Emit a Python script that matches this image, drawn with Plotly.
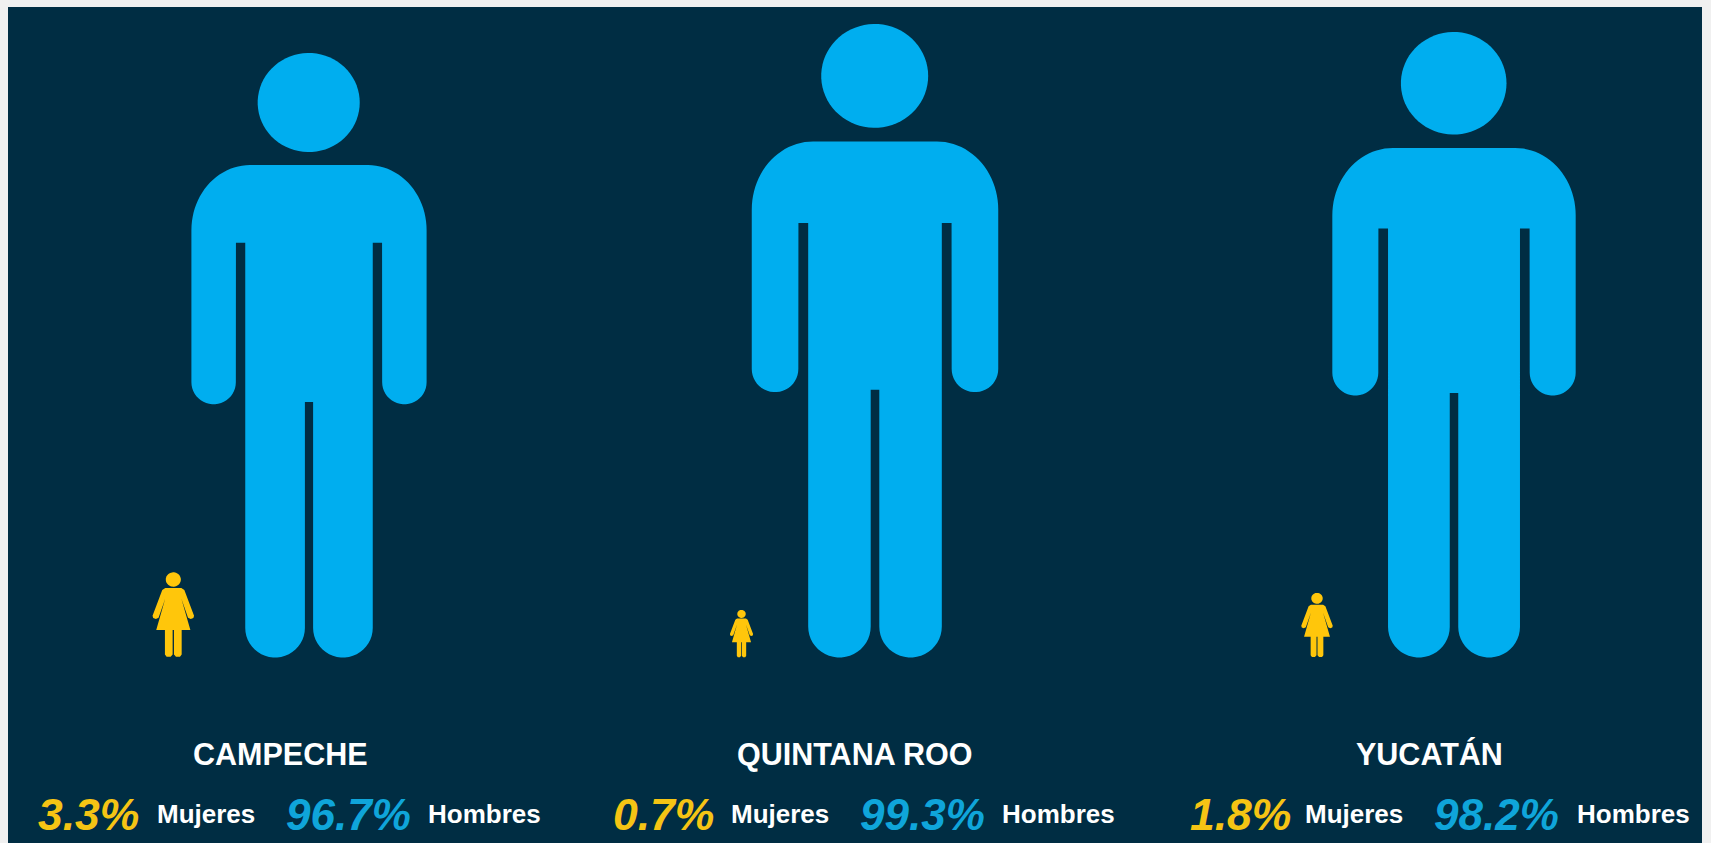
import numpy as np
import plotly.graph_objects as go

# ---- data ----
estados = ["CAMPECHE", "QUINTANA ROO", "YUCATÁN"]
mujeres = [3.3, 0.7, 1.8]
hombres = [96.7, 99.3, 98.2]

# ---- layout constants (pixels of the 1711x843 page) ----
W, H = 1711, 843
PANEL = (8, 1702, 7, 843)
BG, PAGE = "#002d43", "#f0f0f0"
BLUE, YELLOW = "#00aeef", "#ffc60b"
PCT_YELLOW, PCT_BLUE = "#f5c414", "#0fa5da"
BASE_Y = 657.5
man_cx = [309, 875, 1454]
man_h = [604.5, 633.5, 625.5]
woman_cx = [173.3, 741.5, 1317]
woman_h = [85, 47.5, 64.5]
title_cx = [280.5, 854.5, 1429.5]
pctw_x = [36, 611, 1188]
labw_x = [155, 729, 1303]
pctm_x = [284, 858, 1432]
labm_x = [426, 1000, 1575]
TITLE_Y, ROW_Y = 754, 814
FONT = "Liberation Sans"


def arc(cx, cy, rx, ry, a0, a1, n=24):
    t = np.radians(np.linspace(a0, a1, n))
    return cx + rx * np.cos(t), cy + ry * np.sin(t)


def man_template():
    """Icon outline in units of its height, x from centre, y measured up from the baseline."""
    xs, ys = [], []

    def add(p):
        xs.extend(p[0])
        ys.extend(p[1])

    add(([-59, 59], [165, 165]))
    add(arc(59, 230, 58.5, 65, -90, 0))
    add(arc(95.3, 382, 22.2, 22, 0, 180))
    add(([73, 63.7], [242.7, 242.7]))
    add(arc(33.9, 627.5, 29.8, 29.5, 0, 180))
    add(([4.1, -4.1], [401.7, 401.7]))
    add(arc(-33.9, 627.5, 29.8, 29.5, 0, 180))
    add(([-63.7, -73], [242.7, 242.7]))
    add(arc(-95.3, 382, 22.2, 22, 0, 180))
    add(arc(-59, 230, 58.5, 65, 180, 270))
    body = ((np.array(xs)) / 604, (np.array(ys) - 657) / 604)
    hx, hy = arc(-0.3, 102.5, 51, 49.5, 0, 360, 72)
    head = (hx / 604, (hy - 657) / 604)
    return body, head


def woman_template():
    right = [(24, 114), (33, 120), (62, 197), (60, 204), (52, 207), (44, 203), (24, 146),
             (51, 240), (25, 240), (25, 313), (20, 320), (8, 320), (2, 313), (2, 240)]
    pts = [(0, 114)] + right + [(-x, y) for x, y in reversed(right)]
    pts.append(pts[0])
    bx = np.array([p[0] for p in pts]) / 254
    by = (np.array([p[1] for p in pts]) - 322) / 254
    hx, hy = arc(0, 89, 22.5, 21.5, 0, 360, 48)
    return (bx, by), (hx / 254, (hy - 322) / 254)


fig = go.Figure()


def icon(parts, cx, h, color, name):
    for px, py in parts:
        fig.add_trace(go.Scatter(
            x=cx + px * h, y=BASE_Y + py * h, mode="lines", fill="toself",
            fillcolor=color, line=dict(width=0, color=color, simplify=False),
            name=name, hoverinfo="name", showlegend=False))


def label(x, y, text, size, color, anchor="left", italic=False):
    fig.add_annotation(x=x, y=y, text=text, showarrow=False, xanchor=anchor, yanchor="middle",
                       xref="x", yref="y",
                       font=dict(family=FONT, size=size, color=color, weight="bold",
                                 style="italic" if italic else "normal"))


man = man_template()
woman = woman_template()
for i, est in enumerate(estados):
    icon(man, man_cx[i], man_h[i], BLUE, f"{est} Hombres {hombres[i]}%")
    icon(woman, woman_cx[i], woman_h[i], YELLOW, f"{est} Mujeres {mujeres[i]}%")
    label(title_cx[i], TITLE_Y, est, 30.5, "#ffffff", anchor="center")
    label(pctw_x[i], ROW_Y, f"{mujeres[i]}%", 44.5, PCT_YELLOW, italic=True)
    label(labw_x[i], ROW_Y, "Mujeres", 26, "#ffffff")
    label(pctm_x[i], ROW_Y, f"{hombres[i]}%", 44, PCT_BLUE, italic=True)
    label(labm_x[i], ROW_Y, "Hombres", 26, "#ffffff")

fig.update_xaxes(visible=False, range=[PANEL[0], PANEL[1]], fixedrange=True)
fig.update_yaxes(visible=False, range=[PANEL[3], PANEL[2]], fixedrange=True)
fig.update_layout(
    width=W, height=H, autosize=False, showlegend=False,
    margin=dict(l=PANEL[0], r=W - PANEL[1], t=PANEL[2], b=H - PANEL[3], pad=0),
    paper_bgcolor=PAGE, plot_bgcolor=BG,
)

fig.write_html(
    "out.html",
    config={"displayModeBar": False},
    post_script="document.body.style.margin='0';document.body.style.overflow='hidden';",
)
